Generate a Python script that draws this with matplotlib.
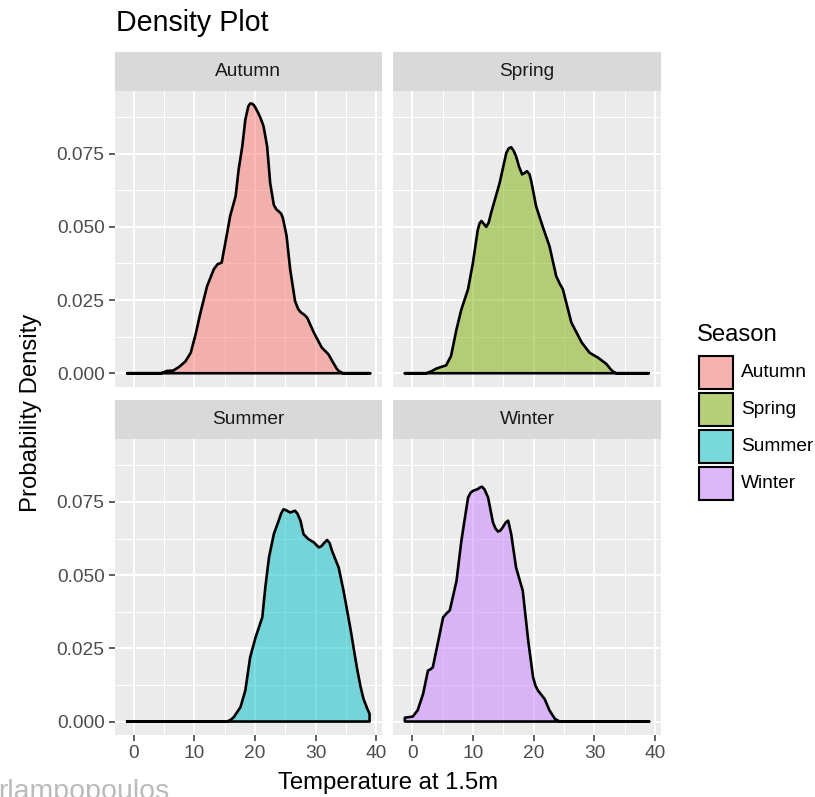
"""
Faceted density plot of 1.5m temperature by season (ggplot-style look).
"""

import matplotlib
matplotlib.use("Agg")
import matplotlib.pyplot as plt
from matplotlib.patches import Rectangle

plt.rcParams["font.family"] = ["Liberation Sans", "DejaVu Sans"]

W, H = 815, 797

SEASONS = ["Autumn", "Spring", "Summer", "Winter"]
COLORS = ["#F8766D", "#7CAE00", "#00BFC4", "#C77CFF"]

# density curves (x = temperature, y = density)
autumn_x = [-1.1, 4.5, 5.5, 6.5, 7.5, 8.5, 9.4, 10.2, 11.0, 12.1, 13.2, 13.8, 14.5,
            15.1, 15.9, 16.8, 17.3, 17.9, 18.4, 18.9, 19.2, 19.5, 19.8, 20.1, 20.5,
            20.9, 21.4, 22.0, 22.5, 23.1, 23.5, 23.9, 24.3, 24.6, 25.2, 25.8, 26.6,
            27.1, 27.5, 28.1, 28.6, 29.7, 31.0, 32.1, 32.9, 33.5, 33.8, 34.5, 39.0]
autumn_y = [0.0, 0.0, 0.0008, 0.0009, 0.0022, 0.0040, 0.0070, 0.0133, 0.0207, 0.0298,
            0.0355, 0.0372, 0.0378, 0.0445, 0.0537, 0.0605, 0.0696, 0.0775, 0.0866,
            0.0912, 0.0921, 0.0921, 0.0916, 0.0906, 0.0890, 0.0872, 0.0844, 0.0775,
            0.0650, 0.0575, 0.0560, 0.0553, 0.0545, 0.0530, 0.0470, 0.0355, 0.0247,
            0.0220, 0.0209, 0.0200, 0.0190, 0.0139, 0.0088, 0.0065, 0.0036, 0.0015,
            0.0008, 0.0, 0.0]

spring_x = [-1.2, 2.3, 3.2, 4.0, 5.0, 5.6, 6.4, 7.3, 8.1, 9.2, 10.0, 10.8, 11.1,
            11.4, 11.8, 12.2, 12.6, 13.0, 14.4, 15.5, 15.9, 16.3, 16.7, 17.1, 17.6,
            18.1, 18.5, 18.9, 19.3, 19.6, 20.4, 21.5, 22.6, 23.7, 24.3, 24.8, 26.2,
            27.9, 29.2, 30.6, 32.0, 32.6, 33.1, 33.6, 38.9]
spring_y = [0.0, 0.0, 0.0007, 0.0016, 0.0023, 0.0027, 0.0059, 0.0150, 0.0218, 0.0287,
            0.0377, 0.0490, 0.0512, 0.0520, 0.0510, 0.0500, 0.0515, 0.0548, 0.0650,
            0.0753, 0.0768, 0.0772, 0.0760, 0.0741, 0.0705, 0.0679, 0.0684, 0.0690,
            0.0680, 0.0656, 0.0570, 0.0500, 0.0434, 0.0332, 0.0305, 0.0287, 0.0173,
            0.0105, 0.0070, 0.0053, 0.0031, 0.0015, 0.0005, 0.0, 0.0]

summer_x = [-1.1, 15.4, 16.0, 16.5, 17.6, 18.4, 19.2, 20.1, 21.2, 21.7, 22.3, 23.1,
            23.9, 24.3, 24.7, 25.1, 25.8, 26.2, 26.6, 27.0, 27.5, 28.0, 28.8, 29.7,
            30.5, 30.9, 31.5, 31.9, 32.3, 32.7, 33.8, 34.6, 35.7, 36.8, 37.4, 37.9,
            38.5, 38.9, 38.9]
summer_y = [0.0, 0.0, 0.0006, 0.0015, 0.0049, 0.0106, 0.0220, 0.0288, 0.0356, 0.0458,
            0.0560, 0.0640, 0.0686, 0.0710, 0.0725, 0.0722, 0.0714, 0.0717, 0.0720,
            0.0710, 0.0686, 0.0640, 0.0623, 0.0612, 0.0595, 0.0598, 0.0612, 0.0620,
            0.0610, 0.0583, 0.0526, 0.0447, 0.0322, 0.0185, 0.0120, 0.0077, 0.0045,
            0.0026, 0.0]

winter_x = [-1.2, -1.2, 0.1, 0.9, 1.8, 2.6, 3.0, 3.4, 4.2, 5.1, 5.6, 6.2, 7.3, 8.1,
            9.2, 9.6, 10.0, 10.8, 11.2, 11.5, 11.9, 12.5, 13.3, 13.7, 14.1, 14.5,
            14.9, 15.4, 15.8, 16.3, 17.1, 18.2, 19.1, 19.9, 20.3, 20.7, 21.8, 22.6,
            23.5, 24.3, 39.0]
winter_y = [0.0, 0.0013, 0.0017, 0.0038, 0.0094, 0.0174, 0.0178, 0.0185, 0.0265,
            0.0356, 0.0368, 0.0380, 0.0480, 0.0617, 0.0765, 0.0781, 0.0788, 0.0794,
            0.0800, 0.0802, 0.0793, 0.0765, 0.0680, 0.0660, 0.0649, 0.0652, 0.0663,
            0.0680, 0.0686, 0.0640, 0.0526, 0.0447, 0.0276, 0.0151, 0.0122, 0.0106,
            0.0077, 0.0038, 0.0009, 0.0, 0.0]

SERIES = [(autumn_x, autumn_y), (spring_x, spring_y),
          (summer_x, summer_y), (winter_x, winter_y)]

X_TICKS = [0, 10, 20, 30, 40]
Y_TICKS = [0.0, 0.025, 0.050, 0.075]
Y_TICK_LABELS = ["0.000", "0.025", "0.050", "0.075"]

# panel boxes in pixels (left, top, right, bottom)
PANELS = [(115, 91, 381.7, 386.7), (393.3, 91, 660.7, 386.7),
          (115, 439.3, 381.7, 735), (393.3, 439.3, 660.7, 735)]
STRIP_H = 39.5


def px_axes(fig, x0, y0, x1, y1):
    return fig.add_axes([x0 / W, 1 - y1 / H, (x1 - x0) / W, (y1 - y0) / H])


def style_panel(ax, left, bottom):
    ax.set_facecolor("#EBEBEB")
    for s in ax.spines.values():
        s.set_visible(False)
    ax.set_xlim(-3.1, 40.9)
    ax.set_ylim(-0.0046, 0.0964)
    ax.set_xticks(X_TICKS)
    ax.set_xticks([5, 15, 25, 35], minor=True)
    ax.set_yticks(Y_TICKS)
    ax.set_yticks([0.0125, 0.0375, 0.0625, 0.0875], minor=True)
    ax.grid(which="major", color="white", lw=1.5)
    ax.grid(which="minor", color="white", lw=0.75)
    ax.set_axisbelow(True)
    ax.tick_params(which="minor", length=0)
    ax.tick_params(which="major", length=4.5, width=1.1, color="#333333",
                   labelcolor="#4D4D4D", labelsize=13.8, pad=3)
    if left:
        ax.set_yticklabels(Y_TICK_LABELS)
    else:
        ax.tick_params(axis="y", length=0, labelleft=False)
    if bottom:
        ax.set_xticklabels([str(t) for t in X_TICKS])
    else:
        ax.tick_params(axis="x", length=0, labelbottom=False)


def main():
    fig = plt.figure(figsize=(W / 100, H / 100), dpi=100)

    for i, (name, color, (xs, ys), box) in enumerate(zip(SEASONS, COLORS, SERIES, PANELS)):
        x0, y0, x1, y1 = box
        ax = px_axes(fig, x0, y0, x1, y1)
        style_panel(ax, left=(i % 2 == 0), bottom=(i >= 2))
        ax.fill(xs, ys, facecolor=color, alpha=0.5, edgecolor="none", zorder=2)
        ax.fill(xs, ys, facecolor="none", edgecolor="black", lw=1.9,
                joinstyle="round", zorder=3)

        strip = px_axes(fig, x0, y0 - STRIP_H, x1, y0)
        strip.set_facecolor("#D9D9D9")
        strip.set_xticks([]); strip.set_yticks([])
        for s in strip.spines.values():
            s.set_visible(False)
        strip.text(0.5, 0.5, name, ha="center", va="center", fontsize=13.8,
                   color="#1A1A1A", transform=strip.transAxes)

    fig.text(116 / W, 1 - 23 / H, "Density Plot", fontsize=20.6, color="black",
             ha="left", va="center")
    fig.text(388 / W, 1 - 783 / H, "Temperature at 1.5m", fontsize=17.2,
             ha="center", va="center")
    fig.text(31 / W, 1 - 413 / H, "Probability Density", fontsize=17.2,
             rotation=90, ha="center", va="center")

    # legend drawn by hand so the keys match ggplot's boxes
    fig.text(697 / W, 1 - 335 / H, "Season", fontsize=17.2, ha="left", va="center")
    for k, (name, color) in enumerate(zip(SEASONS, COLORS)):
        top = 355 + k * 37
        fig.patches.append(Rectangle((698 / W, 1 - (top + 35) / H), 36 / W, 35 / H,
                                     facecolor="#F2F2F2", edgecolor="none",
                                     transform=fig.transFigure, figure=fig))
        fig.patches.append(Rectangle((699 / W, 1 - (top + 34) / H), 34 / W, 33 / H,
                                     facecolor=color, alpha=0.5, edgecolor="none",
                                     transform=fig.transFigure, figure=fig))
        fig.patches.append(Rectangle((699 / W, 1 - (top + 34) / H), 34 / W, 33 / H,
                                     facecolor="none", edgecolor="black", lw=1.5,
                                     transform=fig.transFigure, figure=fig))
        fig.text(741 / W, 1 - (top + 17.5) / H, name, fontsize=13.8,
                 ha="left", va="center")

    # watermark, clipped at the bottom-left corner like the source image
    fig.text(-0.002, -0.003, "rlampopoulos", fontsize=20.5, color="#BBBBBB",
             ha="left", va="baseline")

    fig.savefig("out.png", dpi=100)
    plt.close(fig)


if __name__ == "__main__":
    main()
